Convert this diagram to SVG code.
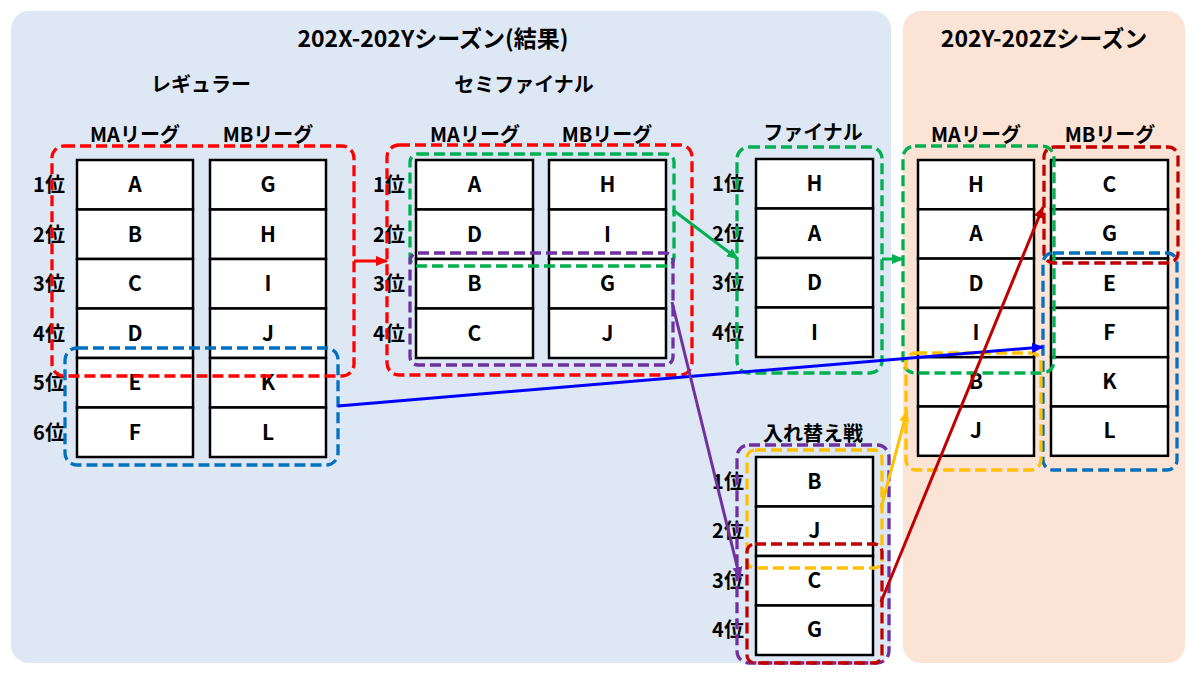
<svg xmlns="http://www.w3.org/2000/svg" width="1200" height="675" viewBox="0 0 1200 675">
<style>
text{font-family:"Noto Sans CJK JP","Noto Sans",sans-serif;font-weight:bold;fill:#000}
.t{font-size:23px;text-anchor:middle}
.h{font-size:20px;text-anchor:middle}
.c{font-size:21px;text-anchor:middle}
.r{font-size:20px;text-anchor:middle}
.cell{fill:#fff;stroke:#000;stroke-width:2.5}
.d{fill:none;stroke-width:3.3;stroke-dasharray:11 5}
.a{fill:none;stroke-width:3}
</style>
<defs>
<marker id="mR" markerUnits="userSpaceOnUse" markerWidth="12" markerHeight="10" refX="11" refY="5" orient="auto"><path d="M0,0 L12,5 L0,10 Z" fill="#FF0000"/></marker>
<marker id="mG" markerUnits="userSpaceOnUse" markerWidth="12" markerHeight="10" refX="11" refY="5" orient="auto"><path d="M0,0 L12,5 L0,10 Z" fill="#00B050"/></marker>
<marker id="mB" markerUnits="userSpaceOnUse" markerWidth="12" markerHeight="10" refX="11" refY="5" orient="auto"><path d="M0,0 L12,5 L0,10 Z" fill="#0000FF"/></marker>
<marker id="mP" markerUnits="userSpaceOnUse" markerWidth="12" markerHeight="10" refX="11" refY="5" orient="auto"><path d="M0,0 L12,5 L0,10 Z" fill="#7030A0"/></marker>
<marker id="mY" markerUnits="userSpaceOnUse" markerWidth="12" markerHeight="10" refX="11" refY="5" orient="auto"><path d="M0,0 L12,5 L0,10 Z" fill="#FFC000"/></marker>
<marker id="mD" markerUnits="userSpaceOnUse" markerWidth="12" markerHeight="10" refX="11" refY="5" orient="auto"><path d="M0,0 L12,5 L0,10 Z" fill="#C00000"/></marker>
</defs>

<g id="panels">
<rect x="11" y="11" width="880" height="652" rx="18" fill="#DEE8F4"/>
<rect x="903" y="11" width="282" height="652" rx="18" fill="#FBE3D6"/>
<text class="t" x="433" y="47">202X-202Yシーズン(結果)</text>
<text class="t" x="1044" y="47">202Y-202Zシーズン</text>
<text class="h" x="201" y="92">レギュラー</text>
<text class="h" x="524" y="92">セミファイナル</text>
<text class="h" x="813" y="140">ファイナル</text>
<text class="h" x="813" y="441">入れ替え戦</text>
<text class="h" x="135" y="142">MAリーグ</text>
<text class="h" x="268" y="142">MBリーグ</text>
<text class="h" x="475" y="142">MAリーグ</text>
<text class="h" x="607" y="142">MBリーグ</text>
<text class="h" x="976" y="142">MAリーグ</text>
<text class="h" x="1110" y="142">MBリーグ</text>
</g>

<g id="rank-labels">
<text class="r" x="49" y="192">1位</text>
<text class="r" x="49" y="242">2位</text>
<text class="r" x="49" y="291">3位</text>
<text class="r" x="49" y="341">4位</text>
<text class="r" x="49" y="390">5位</text>
<text class="r" x="49" y="440">6位</text>
<text class="r" x="389" y="192">1位</text>
<text class="r" x="389" y="242">2位</text>
<text class="r" x="389" y="291">3位</text>
<text class="r" x="389" y="341">4位</text>
<text class="r" x="728" y="191">1位</text>
<text class="r" x="728" y="241">2位</text>
<text class="r" x="728" y="290">3位</text>
<text class="r" x="728" y="340">4位</text>
<text class="r" x="728" y="489">1位</text>
<text class="r" x="728" y="538">2位</text>
<text class="r" x="728" y="588">3位</text>
<text class="r" x="728" y="637">4位</text>
</g>

<g id="regular-ma">
<rect class="cell" x="77" y="160" width="116" height="49.5"/><text class="c" x="135" y="192">A</text>
<rect class="cell" x="77" y="209.5" width="116" height="49.5"/><text class="c" x="135" y="242">B</text>
<rect class="cell" x="77" y="259" width="116" height="49.5"/><text class="c" x="135" y="291">C</text>
<rect class="cell" x="77" y="308.5" width="116" height="49.5"/><text class="c" x="135" y="341">D</text>
<rect class="cell" x="77" y="358" width="116" height="49.5"/><text class="c" x="135" y="390">E</text>
<rect class="cell" x="77" y="407.5" width="116" height="49.5"/><text class="c" x="135" y="440">F</text>
</g>
<g id="regular-mb">
<rect class="cell" x="210" y="160" width="116" height="49.5"/><text class="c" x="268" y="192">G</text>
<rect class="cell" x="210" y="209.5" width="116" height="49.5"/><text class="c" x="268" y="242">H</text>
<rect class="cell" x="210" y="259" width="116" height="49.5"/><text class="c" x="268" y="291">I</text>
<rect class="cell" x="210" y="308.5" width="116" height="49.5"/><text class="c" x="268" y="341">J</text>
<rect class="cell" x="210" y="358" width="116" height="49.5"/><text class="c" x="268" y="390">K</text>
<rect class="cell" x="210" y="407.5" width="116" height="49.5"/><text class="c" x="268" y="440">L</text>
</g>

<g id="semi-ma">
<rect class="cell" x="416" y="160" width="117" height="49.5"/><text class="c" x="474.5" y="192">A</text>
<rect class="cell" x="416" y="209.5" width="117" height="49.5"/><text class="c" x="474.5" y="242">D</text>
<rect class="cell" x="416" y="259" width="117" height="49.5"/><text class="c" x="474.5" y="291">B</text>
<rect class="cell" x="416" y="308.5" width="117" height="49.5"/><text class="c" x="474.5" y="341">C</text>
</g>
<g id="semi-mb">
<rect class="cell" x="549" y="160" width="117" height="49.5"/><text class="c" x="607.5" y="192">H</text>
<rect class="cell" x="549" y="209.5" width="117" height="49.5"/><text class="c" x="607.5" y="242">I</text>
<rect class="cell" x="549" y="259" width="117" height="49.5"/><text class="c" x="607.5" y="291">G</text>
<rect class="cell" x="549" y="308.5" width="117" height="49.5"/><text class="c" x="607.5" y="341">J</text>
</g>

<g id="final">
<rect class="cell" x="756" y="159" width="117" height="49.5"/><text class="c" x="814.5" y="191">H</text>
<rect class="cell" x="756" y="208.5" width="117" height="49.5"/><text class="c" x="814.5" y="241">A</text>
<rect class="cell" x="756" y="258" width="117" height="49.5"/><text class="c" x="814.5" y="290">D</text>
<rect class="cell" x="756" y="307.5" width="117" height="49.5"/><text class="c" x="814.5" y="340">I</text>
</g>

<g id="replacement">
<rect class="cell" x="756" y="457" width="117" height="49.5"/><text class="c" x="814.5" y="489">B</text>
<rect class="cell" x="756" y="506.5" width="117" height="49.5"/><text class="c" x="814.5" y="538">J</text>
<rect class="cell" x="756" y="556" width="117" height="49.5"/><text class="c" x="814.5" y="588">C</text>
<rect class="cell" x="756" y="605.5" width="117" height="49.5"/><text class="c" x="814.5" y="637">G</text>
</g>

<g id="next-ma">
<rect class="cell" x="918" y="160" width="116" height="49.3"/><text class="c" x="976" y="192">H</text>
<rect class="cell" x="918" y="209.3" width="116" height="49.3"/><text class="c" x="976" y="241">A</text>
<rect class="cell" x="918" y="258.6" width="116" height="49.3"/><text class="c" x="976" y="291">D</text>
<rect class="cell" x="918" y="307.9" width="116" height="49.3"/><text class="c" x="976" y="340">I</text>
<rect class="cell" x="918" y="357.2" width="116" height="49.3"/><text class="c" x="976" y="389">B</text>
<rect class="cell" x="918" y="406.5" width="116" height="49.3"/><text class="c" x="976" y="438">J</text>
</g>
<g id="next-mb">
<rect class="cell" x="1051" y="160" width="117" height="49.3"/><text class="c" x="1109.5" y="192">C</text>
<rect class="cell" x="1051" y="209.3" width="117" height="49.3"/><text class="c" x="1109.5" y="241">G</text>
<rect class="cell" x="1051" y="258.6" width="117" height="49.3"/><text class="c" x="1109.5" y="291">E</text>
<rect class="cell" x="1051" y="307.9" width="117" height="49.3"/><text class="c" x="1109.5" y="340">F</text>
<rect class="cell" x="1051" y="357.2" width="117" height="49.3"/><text class="c" x="1109.5" y="389">K</text>
<rect class="cell" x="1051" y="406.5" width="117" height="49.3"/><text class="c" x="1109.5" y="438">L</text>
</g>

<g id="groups">
<rect class="d" x="52" y="146" width="302" height="230" rx="12" stroke="#FF0000"/>
<rect class="d" x="65" y="348" width="273" height="117" rx="12" stroke="#0070C0"/>
<rect class="d" x="387" y="145" width="305" height="230" rx="12" stroke="#FF0000"/>
<rect class="d" x="410" y="154" width="264" height="112" rx="8" stroke="#00B050"/>
<rect class="d" x="410" y="253" width="263" height="112" rx="8" stroke="#7030A0"/>
<rect class="d" x="737" y="147" width="145" height="226" rx="12" stroke="#00B050"/>
<rect class="d" x="737" y="445" width="152" height="218" rx="12" stroke="#7030A0"/>
<rect class="d" x="747" y="450" width="135" height="118" rx="8" stroke="#FFC000"/>
<rect class="d" x="747" y="544" width="135" height="119" rx="8" stroke="#C00000"/>
<rect class="d" x="903" y="146" width="151" height="227" rx="12" stroke="#00B050"/>
<rect class="d" x="1044" y="147" width="134" height="116" rx="10" stroke="#C00000"/>
<rect class="d" x="1043" y="253" width="134" height="217" rx="10" stroke="#0070C0"/>
<rect class="d" x="906" y="353" width="135" height="117" rx="10" stroke="#FFC000"/>
</g>

<g id="connectors">
<line class="a" x1="354" y1="261" x2="387" y2="261" stroke="#FF0000" marker-end="url(#mR)"/>
<line class="a" x1="673" y1="210" x2="738" y2="259" stroke="#00B050" marker-end="url(#mG)"/>
<line class="a" x1="882" y1="259" x2="903" y2="259" stroke="#00B050" marker-end="url(#mG)"/>
<line class="a" x1="338" y1="406" x2="1043" y2="347" stroke="#0000FF" marker-end="url(#mB)"/>
<line class="a" x1="672" y1="302" x2="740" y2="578" stroke="#7030A0" marker-end="url(#mP)"/>
<line class="a" x1="881" y1="508" x2="907" y2="411" stroke="#FFC000" marker-end="url(#mY)"/>
<line class="a" x1="881" y1="602" x2="1043" y2="207" stroke="#C00000" marker-end="url(#mD)"/>
</g>
</svg>
